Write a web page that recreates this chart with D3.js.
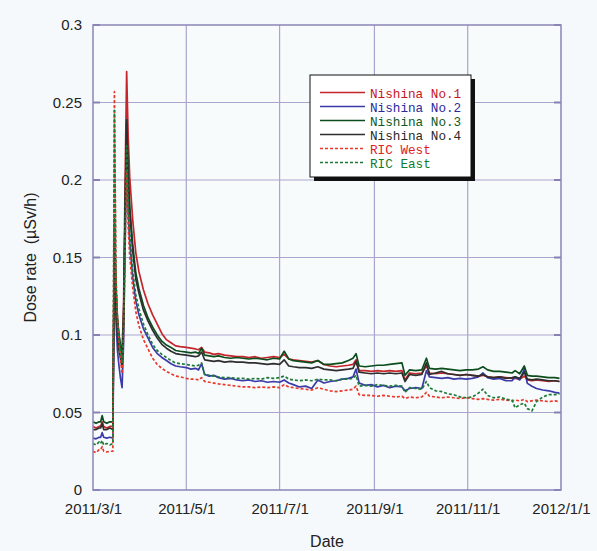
<!DOCTYPE html>
<html>
<head>
<meta charset="utf-8">
<script src="https://cdn.jsdelivr.net/npm/d3@7"></script>
<style>
  html, body { margin: 0; padding: 0; background: #f6f9fb; }
  svg { display: block; }
</style>
</head>
<body>
<svg id="chart" width="597" height="551"></svg>
<script>
// Sampling dates (2011) for the monitoring posts
const dates = [
  "2011-03-01","2011-03-03","2011-03-05","2011-03-06","2011-03-07","2011-03-08","2011-03-10","2011-03-12","2011-03-14",
  "2011-03-15","2011-03-16","2011-03-17","2011-03-18","2011-03-19","2011-03-20","2011-03-21","2011-03-22","2011-03-23",
  "2011-03-24","2011-03-25","2011-03-27","2011-03-29","2011-03-31","2011-04-03","2011-04-06","2011-04-09","2011-04-12",
  "2011-04-15","2011-04-18","2011-04-21","2011-04-24","2011-04-27","2011-05-01","2011-05-04","2011-05-07","2011-05-09",
  "2011-05-11","2011-05-13","2011-05-16","2011-05-19","2011-05-22","2011-05-26","2011-05-30","2011-06-03","2011-06-07",
  "2011-06-11","2011-06-15","2011-06-19","2011-06-23","2011-06-27","2011-07-01","2011-07-04","2011-07-07","2011-07-10",
  "2011-07-14","2011-07-18","2011-07-22","2011-07-26","2011-07-30","2011-08-03","2011-08-07","2011-08-11","2011-08-15",
  "2011-08-18","2011-08-20","2011-08-22","2011-08-26","2011-08-30","2011-09-03","2011-09-07","2011-09-11","2011-09-15",
  "2011-09-19","2011-09-21","2011-09-24","2011-09-28","2011-10-02","2011-10-05","2011-10-07","2011-10-11","2011-10-15",
  "2011-10-19","2011-10-23","2011-10-27","2011-10-31","2011-11-04","2011-11-08","2011-11-11","2011-11-14","2011-11-18",
  "2011-11-22","2011-11-26","2011-11-30","2011-12-02","2011-12-05","2011-12-08","2011-12-10","2011-12-13","2011-12-16",
  "2011-12-20","2011-12-24","2011-12-28","2011-12-31"
];

// Dose rate (µSv/h) at each post
const nishina1 = [
  0.041,0.040,0.041,0.041,0.044,0.041,0.040,0.041,0.041,
  0.170,0.130,0.110,0.100,0.093,0.088,0.120,0.200,0.270,
  0.228,0.202,0.174,0.153,0.141,0.129,0.120,0.113,0.107,
  0.101,0.097,0.0950,0.093,0.0925,0.092,0.0915,0.091,0.0905,
  0.092,0.089,0.0885,0.0875,0.088,0.087,0.0865,0.086,0.086,
  0.0855,0.086,0.085,0.0855,0.086,0.0855,0.0875,0.0845,0.084,
  0.0835,0.083,0.0825,0.0835,0.081,0.080,0.0795,0.080,0.0805,
  0.081,0.084,0.077,0.077,0.0765,0.077,0.0765,0.077,0.0765,
  0.077,0.071,0.0755,0.075,0.0755,0.080,0.0755,0.075,0.0755,
  0.075,0.0745,0.074,0.0745,0.074,0.0735,0.074,0.073,0.0725,
  0.073,0.0725,0.072,0.072,0.0715,0.0735,0.071,0.0705,0.071,
  0.0705,0.070,0.0705,0.070
];
const nishina2 = [
  0.0335,0.033,0.034,0.034,0.037,0.034,0.0335,0.034,0.0335,
  0.150,0.110,0.090,0.080,0.072,0.066,0.095,0.160,0.215,
  0.180,0.160,0.137,0.122,0.113,0.104,0.098,0.092,0.088,
  0.0855,0.0835,0.0815,0.080,0.0795,0.079,0.078,0.0785,0.0775,
  0.0815,0.0745,0.0735,0.074,0.0725,0.0715,0.072,0.071,0.0705,
  0.071,0.070,0.0705,0.0695,0.070,0.0695,0.071,0.069,0.068,
  0.0665,0.067,0.0655,0.071,0.069,0.070,0.0705,0.0715,0.072,
  0.073,0.078,0.069,0.0675,0.068,0.0665,0.0675,0.066,0.067,
  0.0665,0.064,0.0655,0.066,0.0655,0.077,0.073,0.0725,0.072,
  0.0725,0.0715,0.072,0.0715,0.072,0.073,0.0755,0.0725,0.0715,
  0.072,0.0705,0.0705,0.073,0.071,0.078,0.0688,0.067,0.0655,
  0.0645,0.064,0.063,0.0625
];
const nishina3 = [
  0.044,0.043,0.044,0.044,0.048,0.044,0.043,0.044,0.044,
  0.175,0.130,0.110,0.100,0.093,0.086,0.110,0.180,0.237,
  0.205,0.183,0.158,0.140,0.130,0.119,0.111,0.105,0.100,
  0.096,0.0935,0.092,0.090,0.0895,0.089,0.0885,0.089,0.088,
  0.0915,0.087,0.0865,0.086,0.0865,0.0855,0.085,0.0855,0.085,
  0.0845,0.085,0.0845,0.084,0.085,0.0845,0.0895,0.0845,0.0835,
  0.083,0.0825,0.082,0.0835,0.081,0.081,0.0815,0.082,0.0835,
  0.085,0.088,0.080,0.0795,0.080,0.0805,0.0805,0.081,0.0815,
  0.082,0.074,0.0775,0.077,0.0775,0.085,0.0785,0.078,0.0785,
  0.078,0.0775,0.077,0.0775,0.0775,0.078,0.0795,0.0775,0.0765,
  0.0765,0.076,0.0755,0.077,0.075,0.080,0.074,0.0735,0.0735,
  0.073,0.0725,0.0725,0.072
];
const nishina4 = [
  0.039,0.039,0.040,0.040,0.043,0.039,0.039,0.040,0.039,
  0.160,0.120,0.100,0.090,0.085,0.079,0.110,0.180,0.239,
  0.202,0.180,0.154,0.136,0.127,0.116,0.109,0.103,0.098,
  0.094,0.0915,0.0895,0.088,0.0875,0.087,0.0865,0.086,0.0865,
  0.089,0.084,0.0835,0.083,0.0835,0.0825,0.083,0.0825,0.0825,
  0.082,0.082,0.0815,0.081,0.0815,0.081,0.084,0.080,0.0795,
  0.079,0.079,0.0785,0.0795,0.078,0.0775,0.077,0.0775,0.078,
  0.0785,0.083,0.076,0.0755,0.075,0.0755,0.075,0.0755,0.075,
  0.0755,0.070,0.0745,0.074,0.0745,0.082,0.0745,0.0755,0.0765,
  0.075,0.0745,0.074,0.0745,0.074,0.0735,0.0745,0.073,0.0725,
  0.073,0.072,0.0725,0.073,0.072,0.076,0.0715,0.071,0.0715,
  0.071,0.0705,0.0705,0.070
];
const ricWest = [
  0.025,0.024,0.026,0.026,0.028,0.025,0.0245,0.025,0.025,
  0.257,0.140,0.110,0.095,0.085,0.075,0.100,0.155,0.205,
  0.170,0.151,0.130,0.115,0.106,0.097,0.091,0.085,0.081,
  0.0785,0.0765,0.075,0.0735,0.073,0.072,0.0715,0.0715,0.071,
  0.0725,0.070,0.0695,0.069,0.0685,0.068,0.0675,0.067,0.0665,
  0.0665,0.066,0.0665,0.066,0.0665,0.066,0.068,0.0665,0.066,
  0.0655,0.065,0.0645,0.066,0.065,0.064,0.0635,0.064,0.0645,
  0.065,0.067,0.0615,0.061,0.061,0.0605,0.061,0.0605,0.060,
  0.0605,0.059,0.060,0.0595,0.060,0.063,0.0605,0.060,0.0595,
  0.060,0.0595,0.059,0.0595,0.059,0.0585,0.059,0.0585,0.058,
  0.0585,0.058,0.0575,0.058,0.0575,0.0585,0.057,0.0575,0.058,
  0.0575,0.057,0.0575,0.057
];
const ricEast = [
  0.030,0.029,0.031,0.030,0.032,0.029,0.030,0.029,0.030,
  0.245,0.135,0.110,0.097,0.090,0.082,0.105,0.170,0.222,
  0.185,0.165,0.141,0.126,0.117,0.107,0.100,0.094,0.090,
  0.0875,0.0855,0.0835,0.082,0.0815,0.081,0.0805,0.080,0.0805,
  0.082,0.0745,0.074,0.0735,0.073,0.0725,0.0725,0.072,0.072,
  0.0715,0.072,0.0715,0.0725,0.072,0.0725,0.0735,0.0715,0.071,
  0.0705,0.071,0.0705,0.0715,0.071,0.071,0.0705,0.0715,0.0715,
  0.072,0.074,0.067,0.0675,0.067,0.068,0.0675,0.067,0.0675,
  0.067,0.063,0.066,0.0655,0.065,0.070,0.066,0.064,0.0635,
  0.062,0.0615,0.060,0.0595,0.060,0.0625,0.065,0.061,0.0595,
  0.060,0.0585,0.058,0.053,0.055,0.056,0.0525,0.051,0.057,
  0.060,0.0615,0.0615,0.062
];

const seriesNames = ["Nishina No.1", "Nishina No.2", "Nishina No.3", "Nishina No.4", "RIC West", "RIC East"];
const seriesValues = [nishina1, nishina2, nishina3, nishina4, ricWest, ricEast];
const seriesColors = ["#c4262b", "#3a3aa8", "#0b4d1d", "#2e2e2e", "#e8392b", "#1d7a36"];
const seriesLabelColors = ["#c8161e", "#2b2b9c", "#0d5c26", "#2a2a2a", "#e0201c", "#137a2e"];
const seriesDashed = [false, false, false, false, true, true];

// Axis ticks
const yTicks = [0, 0.05, 0.1, 0.15, 0.2, 0.25, 0.3];
const yTickLabels = ["0", "0.05", "0.1", "0.15", "0.2", "0.25", "0.3"];
const xTicks = ["2011-03-01", "2011-05-01", "2011-07-01", "2011-09-01", "2011-11-01", "2012-01-01"];
const xTickLabels = ["2011/3/1", "2011/5/1", "2011/7/1", "2011/9/1", "2011/11/1", "2012/1/1"];

const sansFont = "'Liberation Sans', Arial, sans-serif";
const monoFont = "'Liberation Mono', 'DejaVu Sans Mono', monospace";

const parse = d3.timeParse("%Y-%m-%d");
const svg = d3.select("#chart");

const plotLeft = 93, plotRight = 561, plotTop = 25, plotBottom = 490;
const x = d3.scaleTime().domain([parse("2011-03-01"), parse("2012-01-01")]).range([plotLeft, plotRight]);
const y = d3.scaleLinear().domain([0, 0.3]).range([plotBottom, plotTop]);

// plot background
svg.append("rect").attr("x", plotLeft).attr("y", plotTop)
  .attr("width", plotRight - plotLeft).attr("height", plotBottom - plotTop)
  .attr("fill", "#f8fbfc");

// grid
const grid = svg.append("g");
grid.selectAll("line.hy").data(yTicks.slice(1, -1)).join("line")
  .attr("x1", plotLeft).attr("x2", plotRight).attr("y1", d => y(d)).attr("y2", d => y(d))
  .attr("stroke", "#a9a5cc").attr("stroke-width", 1.2);
grid.selectAll("line.vx").data(xTicks.slice(1, -1)).join("line")
  .attr("x1", d => x(parse(d))).attr("x2", d => x(parse(d))).attr("y1", plotTop).attr("y2", plotBottom)
  .attr("stroke", "#a9a5cc").attr("stroke-width", 1.2);

// inward tick marks on both vertical edges
grid.selectAll("line.tl").data(yTicks).join("line")
  .attr("x1", plotLeft).attr("x2", plotLeft + 7).attr("y1", d => y(d)).attr("y2", d => y(d))
  .attr("stroke", "#8882b4").attr("stroke-width", 2);
grid.selectAll("line.tr").data(yTicks).join("line")
  .attr("x1", plotRight - 7).attr("x2", plotRight).attr("y1", d => y(d)).attr("y2", d => y(d))
  .attr("stroke", "#8882b4").attr("stroke-width", 2);

// series lines
const pts = dates.map(parse);
const line = d3.line().x(d => x(d[0])).y(d => y(d[1])).curve(d3.curveLinear);
const plot = svg.append("g");
seriesValues.forEach((vals, i) => {
  plot.append("path")
    .attr("d", line(pts.map((p, k) => [p, vals[k]])))
    .attr("fill", "none")
    .attr("stroke", seriesColors[i])
    .attr("stroke-width", 1.7)
    .attr("stroke-linejoin", "round")
    .attr("stroke-dasharray", seriesDashed[i] ? "3,2" : null);
});

// frame
svg.append("rect").attr("x", plotLeft).attr("y", plotTop)
  .attr("width", plotRight - plotLeft).attr("height", plotBottom - plotTop)
  .attr("fill", "none").attr("stroke", "#8a85b8").attr("stroke-width", 1.5);

// axis labels
const yAxis = d3.axisLeft(y).tickValues(yTicks).tickFormat((d, i) => yTickLabels[i]).tickSize(0).tickPadding(11);
const gy = svg.append("g").attr("transform", `translate(${plotLeft},0)`).call(yAxis);
gy.select(".domain").remove();
gy.selectAll("text").attr("font-size", 15).attr("font-family", sansFont).attr("fill", "#222");

const xAxis = d3.axisBottom(x).tickValues(xTicks.map(parse)).tickFormat((d, i) => xTickLabels[i]).tickSize(0).tickPadding(13);
const gx = svg.append("g").attr("transform", `translate(0,${plotBottom})`).call(xAxis);
gx.select(".domain").remove();
gx.selectAll("text").attr("font-size", 15).attr("font-family", sansFont).attr("fill", "#222");

svg.append("text").attr("x", (plotLeft + plotRight) / 2).attr("y", 547).attr("text-anchor", "middle")
  .attr("font-family", sansFont).attr("font-size", 16).attr("fill", "#222").text("Date");
svg.append("text").attr("transform", `translate(36,${(plotTop + plotBottom) / 2}) rotate(-90)`)
  .attr("text-anchor", "middle").attr("font-family", sansFont).attr("font-size", 16).attr("fill", "#222")
  .attr("xml:space", "preserve")
  .text("Dose rate  (\u00b5Sv/h)");

// legend
const lg = svg.append("g").attr("transform", "translate(310,75)");
lg.append("rect").attr("x", 4).attr("y", 4).attr("width", 161).attr("height", 102).attr("fill", "#111");
lg.append("rect").attr("x", 0).attr("y", 0).attr("width", 161).attr("height", 102)
  .attr("fill", "#ffffff").attr("stroke", "#111").attr("stroke-width", 1);
seriesNames.forEach((name, i) => {
  const ry = 17.5 + i * 14;
  lg.append("line").attr("x1", 10).attr("x2", 55).attr("y1", ry).attr("y2", ry)
    .attr("stroke", seriesColors[i]).attr("stroke-width", 1.6)
    .attr("stroke-dasharray", seriesDashed[i] ? "3,2" : null);
  lg.append("text").attr("x", 60).attr("y", ry + 5)
    .attr("font-family", monoFont)
    .attr("font-size", 13.5)
    .attr("textLength", name.length * 7.6).attr("lengthAdjust", "spacingAndGlyphs")
    .attr("fill", seriesLabelColors[i]).text(name);
});
</script>
</body>
</html>
